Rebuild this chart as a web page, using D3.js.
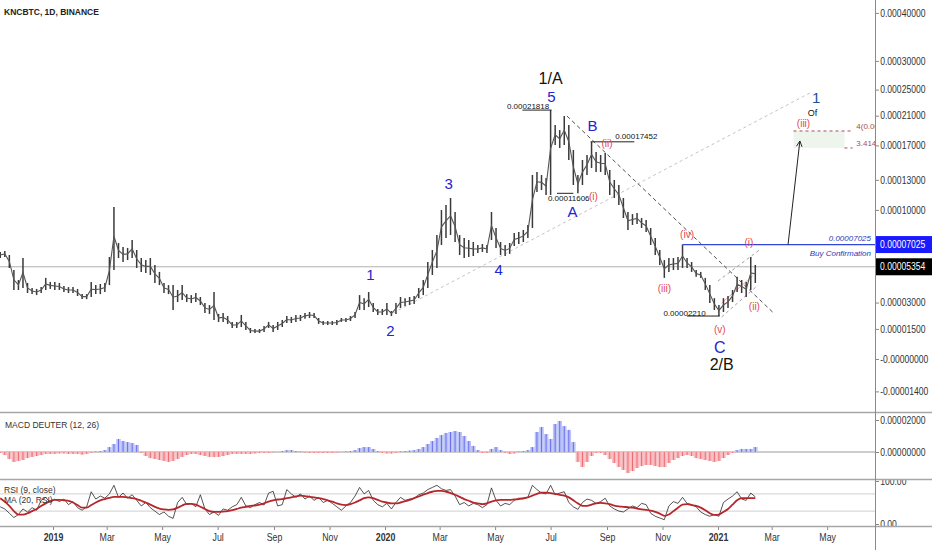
<!DOCTYPE html>
<html><head><meta charset="utf-8">
<script src="https://cdnjs.cloudflare.com/ajax/libs/d3/7.8.5/d3.min.js"></script>
<style>
html,body{margin:0;padding:0;background:#fff;}
svg{display:block;font-family:"Liberation Sans Narrow","Liberation Sans",Arial,sans-serif;}
</style></head><body><svg id="c" width="932" height="550"></svg>
<script>
// ---------------- DATA ----------------
const TITLE = "KNCBTC, 1D, BINANCE";
const START_DATE = "2018-11-04";   // first sampled bar
const STEP_DAYS = 5;               // one sample per 5 days
// price highs / lows in satoshi (1e-8 BTC)
const highSats = [6450,6520,6220,5120,4440,5990,4240,3910,3850,3970,
4580,4310,4310,4240,4040,3970,3970,3850,3520,3520,
4310,4100,4170,4240,6070,10270,7150,6840,6760,7390,
6600,5990,5840,5990,5480,4990,4240,4100,4100,3780,
4100,3520,3460,3590,3340,2970,2850,3650,2330,2390,
2210,1880,1880,2270,1880,1550,1490,1490,1660,1880,
1710,1880,1990,2210,2160,2270,2270,2390,2440,2390,
2100,1930,1930,1930,1990,2100,2100,2210,2440,3460,
3270,3650,2970,2620,2620,2970,2500,2970,3340,3270,
3340,3400,3910,4440,5700,6600,7800,9990,10460,11140,
9810,7800,7550,7390,7230,6990,7070,6990,9810,8390,
7230,6990,7150,7970,8050,8220,8650,13530,13860,13530,
13210,21818,19690,19000,20950,19690,16430,13530,15230,15820,
17452,16190,15820,16070,14080,12990,12460,11140,9810,9620,
9720,9260,9080,8390,7550,6600,5840,5990,5990,6070,
7025,5990,5700,5120,4990,4580,4100,3270,2850,3270,
3400,3780,4650,4440,4310,6070,5480];
const lowSats = [5990,6070,5270,3780,3780,3910,3590,3520,3460,3590,
3780,3850,3780,3780,3650,3590,3590,3400,3210,3210,
3340,3520,3520,3650,4100,5120,5990,5700,5840,5990,
5270,4990,4920,4780,4240,4100,3590,3520,2560,3030,
3150,3030,2970,3030,2850,2390,2330,1990,1880,1880,
1770,1550,1550,1600,1440,1280,1280,1280,1330,1550,
1330,1440,1600,1820,1820,1880,1930,2050,2100,2100,
1770,1710,1710,1710,1710,1880,1880,1930,2100,2560,
2560,2730,2440,2270,2270,2270,2210,2330,2680,2790,
2850,2910,3270,3460,3910,4780,5270,6990,7550,7800,
7230,6220,5990,6070,6140,6370,6450,6370,7390,6760,
6220,6140,6300,6910,7070,7230,7550,8390,11740,11940,
11440,11440,17050,16680,17050,15230,12460,11606,12460,13530,
14310,13860,13860,13530,11440,11140,10460,9260,8220,8650,
8730,8390,8050,6990,6220,5480,4580,4990,5120,5120,
5270,5270,4990,4650,4580,3780,2970,2560,2210,2440,
2680,3030,3650,3590,3340,3780,4240];
// MACD Deuter histogram in satoshi
const macdHistSats = [-60,-190,-440,-620,-560,-500,-380,-310,-250,-190,
-120,-120,-120,-90,-90,-120,-120,-120,-160,-120,
-60,30,60,120,310,500,810,690,620,560,
440,-60,-250,-380,-440,-500,-560,-620,-560,-440,
-310,-190,-120,-120,-190,-250,-310,-310,-310,-250,
-190,-120,-120,-120,-120,-120,-90,-60,-60,-60,
-30,0,60,120,120,60,30,-30,-60,-60,
-60,-60,-60,-60,-30,0,30,60,120,250,
310,310,190,60,-60,-90,-90,-60,30,60,
90,120,190,310,500,690,880,1060,1190,1250,
1310,1250,1000,690,380,120,-60,-60,190,310,
120,-60,-120,-90,30,60,120,310,1250,1560,
1120,810,1750,1940,1620,1380,620,-620,-940,-620,
-250,-60,-60,-190,-440,-690,-940,-1120,-1310,-1190,
-1000,-880,-810,-810,-880,-940,-940,-690,-500,-380,
-250,-190,-250,-380,-440,-500,-560,-620,-560,-380,
-190,-60,120,190,190,190,310];
const rsi9 = [40,35,25,15,22,35,28,38,32,55,
62,50,58,52,58,45,52,38,32,40,
75,58,65,60,70,90,62,72,60,68,
55,42,50,38,30,22,28,18,13,50,
62,45,48,40,68,35,22,28,20,35,
32,40,45,62,42,38,45,50,44,72,
76,42,45,80,70,62,70,58,65,55,
62,50,55,48,40,32,42,50,65,85,
70,78,55,45,40,48,35,50,62,55,
58,60,68,72,80,85,90,82,78,80,
65,45,50,42,48,45,38,45,84,55,
42,48,45,55,60,58,62,90,80,72,
70,90,68,72,75,50,40,34,50,58,
55,48,52,60,42,35,30,28,35,42,
38,48,45,25,18,14,10,42,52,48,
62,48,45,40,28,22,18,22,18,50,
58,65,75,58,55,72,63];
const rsiMA20 = [60,52,42,30,22,22,25,30,35,42,
48,53,56,56,55,54,50,44,38,38,
44,50,55,58,61,63,63,63,62,60,
58,54,50,45,40,36,34,33,34,38,
43,47,47,45,40,35,30,28,28,29,
30,32,35,38,40,42,43,45,48,52,
55,57,58,60,62,64,66,65,63,62,
60,58,55,52,48,45,44,46,50,55,
60,62,60,56,52,50,48,48,50,53,
56,60,64,68,72,75,77,77,75,72,
68,63,58,54,50,48,46,48,52,55,
56,56,56,57,58,60,62,66,70,73,
73,72,70,68,66,62,55,48,42,42,
45,48,49,48,46,43,41,40,39,38,
36,34,33,31,28,24,19,22,30,38,
45,46,44,42,38,32,25,21,22,28,
35,45,55,60,60,60,60];

const priceTicks = [0.0004,0.0003,0.00025,0.00021,0.00017,0.00013,0.0001,0.00003,0.000015,0,-0.000014];
const priceTickLabels = ["0.00040000","0.00030000","0.00025000","0.00021000","0.00017000","0.00013000","0.00010000","0.00003000","0.00001500","-0.00000000","-0.00001400"];
const macdTicks = [2000, 0];
const macdTickLabels = ["0.00002000","0.00000000"];
const rsiTicks = [100, 0];
const rsiTickLabels = ["100.00","0.00"];
const lastPrice = 0.00005354, lastPriceLabel = "0.00005354";
const buyLevel = 0.00007025, buyLevelLabel = "0.00007025";

const waveLabels = [
 {t:"1",d:"2019-12-16",p:4.78e-5,k:"b",s:15},
 {t:"2",d:"2020-01-07",p:1.44e-5,k:"b",s:15},
 {t:"3",d:"2020-03-11",p:12.57e-5,k:"b",s:15},
 {t:"4",d:"2020-05-05",p:5.19e-5,k:"b",s:15},
 {t:"5",d:"2020-07-02",p:23.82e-5,k:"b",s:15},
 {t:"1/A",d:"2020-07-01",p:26.77e-5,k:"k",s:16},
 {t:"A",d:"2020-07-25",p:9.90e-5,k:"b",s:15},
 {t:"B",d:"2020-08-16",p:19.55e-5,k:"b",s:15},
 {t:"(i)",d:"2020-08-17",p:11.24e-5,k:"r",s:10},
 {t:"(ii)",d:"2020-09-01",p:17.18e-5,k:"r",s:10},
 {t:"(iii)",d:"2020-11-03",p:3.85e-5,k:"r",s:10},
 {t:"(iv)",d:"2020-11-28",p:7.88e-5,k:"r",s:10},
 {t:"(v)",d:"2021-01-03",p:1.49e-5,k:"r",s:10},
 {t:"(i)",d:"2021-02-04",p:7.15e-5,k:"r",s:10},
 {t:"(ii)",d:"2021-02-10",p:2.79e-5,k:"r",s:10},
 {t:"C",d:"2021-01-03",p:0.571e-5,k:"b",s:16},
 {t:"2/B",d:"2021-01-05",p:-0.232e-5,k:"k",s:16},
 {t:"1",d:"2021-04-19",p:23.66e-5,k:"n",s:15},
 {t:"Of",d:"2021-04-15",p:21.39e-5,k:"k",s:9},
 {t:"(iii)",d:"2021-04-05",p:19.96e-5,k:"r",s:10}
];
const priceNotes = [
 {t:"0.00021818",p:0.00021818,d0:"2020-05-31",d1:"2020-07-02",td:"2020-05-14",dy:-1.5},
 {t:"0.00011606",p:0.00011606,d0:"2020-07-08",d1:"2020-07-26",td:"2020-06-28",dy:8},
 {t:"0.00017452",p:0.00017452,d0:"2020-08-14",d1:"2020-10-01",td:"2020-09-10",dy:-3},
 {t:"0.00002210",p:0.00002210,d0:"2020-11-28",d1:"2021-01-03",td:"2020-11-02",dy:-0.5}
];
const trendLines = [
 {d0:"2020-01-10",p0:2.39e-5,d1:"2021-04-14",p1:24.61e-5,c:"#c4c4c4",dash:"3,3",w:1},
 {d0:"2020-07-19",p0:20.95e-5,d1:"2021-03-02",p1:2.44e-5,c:"#505050",dash:"4,3",w:1},
 {d0:"2021-01-01",p0:4.37e-5,d1:"2021-02-17",p1:6.68e-5,c:"#a0a0a0",dash:"3,3",w:1},
 {d0:"2021-01-05",p0:2.16e-5,d1:"2021-02-14",p1:4.10e-5,c:"#a0a0a0",dash:"3,3",w:1},
 {d0:"2021-01-05",p0:2.97e-5,d1:"2021-02-08",p1:4.71e-5,c:"#f08a8a",dash:null,w:0.8}
];
const buyLineStart = "2020-11-23";
const arrowFrom = {d:"2021-03-19",p:0.00007025}, arrowTo = {d:"2021-04-01",p:17.56e-5};
const fibTop = 18.87e-5, fibBot = 16.68e-5;
const fibBox = {d0:"2021-03-25",d1:"2021-05-20"}, fibLineEnd = "2021-05-29", fibTextDate = "2021-06-02";
const fibLabels = ["4(0.00","3.414("];

// ---------------- LAYOUT ----------------
const PLOT_R = 875, MAIN_B = 412, MACD_T = 413, MACD_B = 479, RSI_T = 480, RSI_B = 526;
const COL = {b:"#2323cf", k:"#111", r:"#e2474f", n:"#1f4f9f"};
const AXFONT = "'Liberation Sans',Arial,sans-serif";
const SQUEEZE = "scale(0.86,1)";
const svg = d3.select("#c");
const parse = d3.utcParse("%Y-%m-%d");
const SAT = 1e-8;
const x = d3.scaleUtc().domain([parse("2019-01-01"), parse("2021-01-01")]).range([53, 718]);
const OFFSET = 0.0001;
const yLog = d3.scaleLog().domain([0.0004 + OFFSET, -0.000014 + OFFSET]).range([12.9, 391.4]);
const y = v => yLog(v + OFFSET);
const yMacd = d3.scaleLinear().domain([0, 2000]).range([452, 420]);
const yRsi = d3.scaleLinear().domain([0, 100]).range([524, 481]);
const dates = highSats.map((_, i) => d3.utcDay.offset(parse(START_DATE), STEP_DAYS * i));
const stepPx = x(dates[1]) - x(dates[0]);
const X = s => x(parse(s));

const defs = svg.append("defs");
const clip = (id, x0, y0, w, h) => defs.append("clipPath").attr("id", id).append("rect").attr("x", x0).attr("y", y0).attr("width", w).attr("height", h);
clip("cMain", 0, 0, PLOT_R, MAIN_B);
clip("cMacd", 0, MACD_T, PLOT_R, MACD_B - MACD_T);
clip("cRsi", 0, RSI_T, PLOT_R, RSI_B - RSI_T);
clip("cAxMain", PLOT_R, 0, 60, MAIN_B);
clip("cAxMacd", PLOT_R, MACD_T, 60, MACD_B - MACD_T);
clip("cAxRsi", PLOT_R, RSI_T, 60, RSI_B - RSI_T);
defs.append("marker").attr("id", "arr").attr("viewBox", "0 0 10 10").attr("refX", 9).attr("refY", 5)
  .attr("markerWidth", 7).attr("markerHeight", 7).attr("orient", "auto")
  .append("path").attr("d", "M1,1 L9,5 L1,9").attr("fill", "none").attr("stroke", "#222").attr("stroke-width", 1.3);

// ---------- main pane ----------
const gM = svg.append("g").attr("clip-path", "url(#cMain)");
gM.append("line").attr("x1", 0).attr("x2", PLOT_R).attr("y1", y(lastPrice)).attr("y2", y(lastPrice)).attr("stroke", "#b0b0b0").attr("stroke-width", 1);

// fib target box
gM.append("rect").attr("x", X(fibBox.d0)).attr("y", y(fibTop)).attr("width", X(fibBox.d1) - X(fibBox.d0)).attr("height", y(fibBot) - y(fibTop)).attr("fill", "#eef5ec");
gM.append("line").attr("x1", X(fibBox.d0)).attr("x2", X(fibLineEnd)).attr("y1", y(fibTop)).attr("y2", y(fibTop)).attr("stroke", "#a3505a").attr("stroke-dasharray", "3,3");
gM.append("line").attr("x1", X(fibBox.d1)).attr("x2", X(fibLineEnd)).attr("y1", y(fibBot)).attr("y2", y(fibBot)).attr("stroke", "#a3505a").attr("stroke-dasharray", "3,3");
[fibTop, fibBot].forEach((p, i) => gM.append("text").attr("x", X(fibTextDate)).attr("y", y(p) - 2).attr("font-size", 8).attr("fill", "#a3505a").text(fibLabels[i]));

// trend lines
gM.selectAll(".tl").data(trendLines).join("line")
  .attr("x1", d => X(d.d0)).attr("y1", d => y(d.p0)).attr("x2", d => X(d.d1)).attr("y2", d => y(d.p1))
  .attr("stroke", d => d.c).attr("stroke-width", d => d.w).attr("stroke-dasharray", d => d.dash);

// price bars
const gBars = gM.append("g");
gBars.selectAll("line").data(dates).join("line")
  .attr("x1", d => x(d)).attr("x2", d => x(d))
  .attr("y1", (d, i) => y(highSats[i] * SAT)).attr("y2", (d, i) => y(lowSats[i] * SAT))
  .attr("stroke", "#3a3a3a").attr("stroke-width", 1.5);
gBars.append("path").datum(dates)
  .attr("d", d3.line().x(d => x(d)).y((d, i) => y((highSats[i] + lowSats[i]) / 2 * SAT)))
  .attr("fill", "none").attr("stroke", "#555").attr("stroke-width", 1.1);

// buy confirmation line
gM.append("line").attr("x1", X(buyLineStart)).attr("x2", PLOT_R).attr("y1", y(buyLevel)).attr("y2", y(buyLevel)).attr("stroke", "#3344d8").attr("stroke-width", 1.2);
gM.append("text").attr("x", PLOT_R - 4).attr("y", y(buyLevel) - 4).attr("text-anchor", "end").attr("font-size", 8).attr("font-style", "italic").attr("fill", "#2a3ab8").text(buyLevelLabel);
gM.append("text").attr("x", PLOT_R - 4).attr("y", y(buyLevel) + 11).attr("text-anchor", "end").attr("font-size", 8).attr("font-style", "italic").attr("fill", "#2a3ab8").text("Buy Confirmation");

// arrow
gM.append("line").attr("x1", X(arrowFrom.d)).attr("y1", y(arrowFrom.p)).attr("x2", X(arrowTo.d)).attr("y2", y(arrowTo.p))
  .attr("stroke", "#222").attr("stroke-width", 1).attr("marker-end", "url(#arr)");

// price notes
priceNotes.forEach(n => {
  gM.append("line").attr("x1", X(n.d0)).attr("x2", X(n.d1)).attr("y1", y(n.p)).attr("y2", y(n.p)).attr("stroke", "#222").attr("stroke-width", 1);
  gM.append("text").attr("x", X(n.td)).attr("y", y(n.p) + n.dy).attr("font-size", 8).attr("fill", "#111").text(n.t);
});

// wave labels
gM.selectAll(".wl").data(waveLabels).join("text")
  .attr("x", d => X(d.d)).attr("y", d => y(d.p)).attr("text-anchor", "middle").attr("dominant-baseline", "central")
  .attr("font-size", d => d.s).attr("fill", d => COL[d.k])
  .text(d => d.t);

svg.append("text").attr("x", 4).attr("y", 15).attr("font-size", 8.5).attr("font-weight", "bold").attr("fill", "#222").text(TITLE);

// ---------- MACD pane ----------
const gD = svg.append("g").attr("clip-path", "url(#cMacd)");
gD.append("line").attr("x1", 0).attr("x2", PLOT_R).attr("y1", yMacd(0)).attr("y2", yMacd(0)).attr("stroke", "#9a9a9a");
gD.selectAll("rect").data(dates).join("rect")
  .attr("x", d => x(d) - stepPx / 2).attr("width", stepPx)
  .attr("y", (d, i) => Math.min(yMacd(macdHistSats[i]), yMacd(0)))
  .attr("height", (d, i) => Math.abs(yMacd(macdHistSats[i]) - yMacd(0)))
  .attr("fill", (d, i) => macdHistSats[i] >= 0 ? "#bcc4f6" : "#f7bcbf");
gD.selectAll(".ml").data(dates).join("line")
  .attr("x1", d => x(d)).attr("x2", d => x(d)).attr("y1", yMacd(0)).attr("y2", (d, i) => yMacd(macdHistSats[i]))
  .attr("stroke", (d, i) => macdHistSats[i] >= 0 ? "#6a6df0" : "#ee6b72").attr("stroke-width", 1);
svg.append("text").attr("x", 5).attr("y", 428).attr("font-size", 8.5).attr("fill", "#333").text("MACD DEUTER (12, 26)");

// ---------- RSI pane ----------
const gR = svg.append("g").attr("clip-path", "url(#cRsi)");
[70, 30].forEach(v => gR.append("line").attr("x1", 0).attr("x2", PLOT_R).attr("y1", yRsi(v)).attr("y2", yRsi(v)).attr("stroke", "#cfcfcf"));
gR.append("path").datum(dates).attr("d", d3.line().x(d => x(d)).y((d, i) => yRsi(rsi9[i])))
  .attr("fill", "none").attr("stroke", "#2a2a2a").attr("stroke-width", 0.8);
gR.append("path").datum(dates).attr("d", d3.line().curve(d3.curveMonotoneX).x(d => x(d)).y((d, i) => yRsi(rsiMA20[i])))
  .attr("fill", "none").attr("stroke", "#b7262b").attr("stroke-width", 1.8);
svg.append("text").attr("x", 4).attr("y", 493).attr("font-size", 8.5).attr("fill", "#333").text("RSI (9, close)");
svg.append("text").attr("x", 4).attr("y", 503).attr("font-size", 8.5).attr("fill", "#333").text("MA (20, RSI)");

// ---------- axes ----------
const styleAxis = g => {
  g.select(".domain").remove();
  g.selectAll(".tick line").attr("stroke", "#888");
  g.selectAll("text").attr("fill", "#333").attr("font-size", 10).attr("font-family", AXFONT).attr("transform", SQUEEZE);
};
svg.append("g").attr("clip-path", "url(#cAxMain)").append("g").attr("transform", `translate(${PLOT_R},0)`)
  .call(d3.axisRight(yLog).tickValues(priceTicks.map(v => v + OFFSET)).tickFormat((d, i) => priceTickLabels[i]).tickSize(4).tickPadding(2))
  .call(styleAxis);
svg.append("g").attr("clip-path", "url(#cAxMacd)").append("g").attr("transform", `translate(${PLOT_R},0)`)
  .call(d3.axisRight(yMacd).tickValues(macdTicks).tickFormat((d, i) => macdTickLabels[i]).tickSize(4).tickPadding(2))
  .call(styleAxis);
svg.append("g").attr("clip-path", "url(#cAxRsi)").append("g").attr("transform", `translate(${PLOT_R},0)`)
  .call(d3.axisRight(yRsi).tickValues(rsiTicks).tickFormat((d, i) => rsiTickLabels[i]).tickSize(4).tickPadding(2))
  .call(styleAxis);

// price label boxes
[[buyLevel, buyLevelLabel, "#1a1aff"], [lastPrice, lastPriceLabel, "#000"]].forEach(([v, t, c]) => {
  svg.append("rect").attr("x", PLOT_R).attr("y", y(v) - 8.5).attr("width", 932 - PLOT_R).attr("height", 17).attr("fill", c);
  svg.append("g").attr("transform", `translate(${PLOT_R + 5},${y(v)}) ${SQUEEZE}`)
    .append("text").attr("dominant-baseline", "central").attr("font-size", 10)
    .attr("font-family", AXFONT).attr("fill", "#fff").text(t);
});

// time axis
const tAx = svg.append("g").attr("transform", `translate(0,${RSI_B})`)
  .call(d3.axisBottom(x).tickValues(d3.utcMonth.every(2).range(parse("2019-01-01"), parse("2021-06-02")))
    .tickFormat(d => d.getUTCMonth() === 0 ? d3.utcFormat("%Y")(d) : d3.utcFormat("%b")(d)).tickSize(4).tickPadding(4))
  .call(styleAxis);
tAx.selectAll("text").attr("font-size", 10.5).attr("transform", "scale(0.84,1)")
  .attr("font-weight", d => d.getUTCMonth() === 0 ? "bold" : "normal");

// pane borders
[MAIN_B + 0.5, MACD_B + 0.5, RSI_B + 0.5].forEach(v => svg.append("line").attr("x1", 0).attr("x2", 932).attr("y1", v).attr("y2", v).attr("stroke", "#a6a6a6").attr("stroke-width", 1.6));
svg.append("line").attr("x1", PLOT_R + 0.5).attr("x2", PLOT_R + 0.5).attr("y1", 0).attr("y2", 550).attr("stroke", "#8a8a8a");
</script></body></html>
